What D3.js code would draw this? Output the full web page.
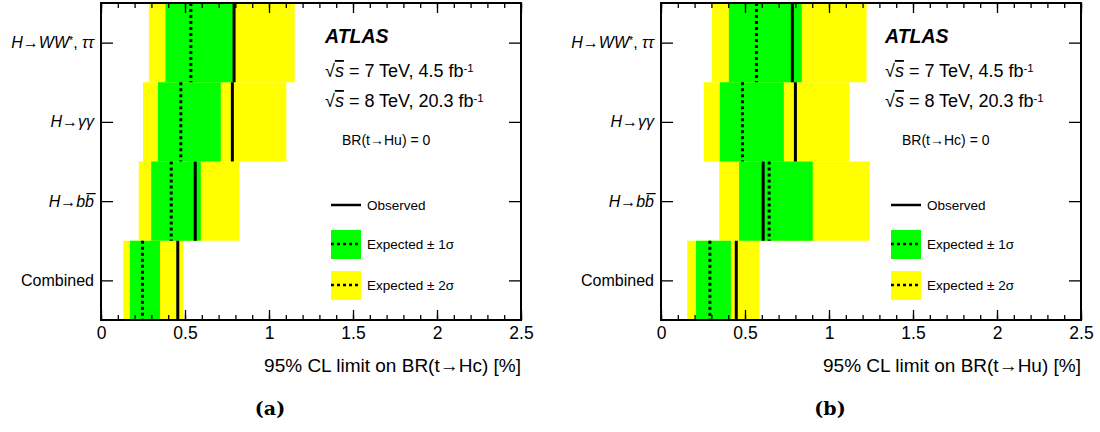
<!DOCTYPE html>
<html>
<head>
<meta charset="utf-8">
<script src="https://cdn.jsdelivr.net/npm/d3@7"></script>
<style>
  body { margin: 0; background: #fff; }
  svg { font-family: "Liberation Sans", Arial, sans-serif; }
</style>
</head>
<body>
<div class="canvas"></div>
<script>
// channels, top to bottom
const categories = ['WW', 'gg', 'bb', 'comb'];

// panel (a) : BR(t->Hc)
const obsHc = [0.792, 0.782, 0.561, 0.457];
const expHc = [0.535, 0.475, 0.418, 0.247];
const m1Hc  = [0.384, 0.339, 0.299, 0.172];
const p1Hc  = [0.786, 0.713, 0.594, 0.351];
const m2Hc  = [0.285, 0.250, 0.225, 0.133];
const p2Hc  = [1.153, 1.103, 0.824, 0.491];

// panel (b) : BR(t->Hu)
const obsHu = [0.782, 0.800, 0.608, 0.448];
const expHu = [0.568, 0.485, 0.644, 0.291];
const m1Hu  = [0.404, 0.350, 0.465, 0.208];
const p1Hu  = [0.838, 0.731, 0.903, 0.416];
const m2Hu  = [0.303, 0.255, 0.347, 0.156];
const p2Hu  = [1.224, 1.121, 1.242, 0.586];

const xTicks = [0, 0.5, 1, 1.5, 2, 2.5];

const dim = {'width': 420, 'height': 317};
const W = 1100, H = 432;

const svg = d3.select('.canvas')
              .append('svg')
              .attr('width', W)
              .attr('height', H);

const panels = [
  {off: 101, tag: '(a)', br: 'BR(t\u2192Hu) = 0', title: '95% CL limit on BR(t\u2192Hc) [%]',
   obs: obsHc, exp: expHc, m1: m1Hc, p1: p1Hc, m2: m2Hc, p2: p2Hc},
  {off: 661, tag: '(b)', br: 'BR(t\u2192Hc) = 0', title: '95% CL limit on BR(t\u2192Hu) [%]',
   obs: obsHu, exp: expHu, m1: m1Hu, p1: p1Hu, m2: m2Hu, p2: p2Hu}
];

// y label pieces: [text, italic, superscript]
const yLabels = {
  'WW':   [['H', 1], ['\u2192', 0], ['WW', 1], ['*', 0, 1], [', ', 0], ['\u03c4\u03c4', 1]],
  'gg':   [['H', 1], ['\u2192', 0], ['\u03b3\u03b3', 1]],
  'bb':   [['H', 1], ['\u2192', 0], ['b', 1], ['b\u0305', 1]],
  'comb': [['Combined', 0]]
};

const drawPanel = p => {
  const g = svg.append('g').attr('transform', `translate(${p.off},3)`);

  const x = d3.scaleLinear().domain([0, 2.5]).range([0, dim.width]);
  const y = d3.scaleBand().domain(categories).range([0, dim.height]);

  const rows = categories.map((c, i) => ({c, obs: p.obs[i], exp: p.exp[i],
      m1: p.m1[i], p1: p.p1[i], m2: p.m2[i], p2: p.p2[i]}));

  // 2 sigma
  g.selectAll('.y2').data(rows).enter().append('rect')
    .attr('x', d => x(d.m2)).attr('width', d => x(d.p2) - x(d.m2))
    .attr('y', d => y(d.c)).attr('height', y.bandwidth())
    .attr('fill', '#ffff00');
  // 1 sigma
  g.selectAll('.g1').data(rows).enter().append('rect')
    .attr('x', d => x(d.m1)).attr('width', d => x(d.p1) - x(d.m1))
    .attr('y', d => y(d.c)).attr('height', y.bandwidth())
    .attr('fill', '#00ff00');
  // expected
  g.selectAll('.exp').data(rows).enter().append('line')
    .attr('x1', d => x(d.exp)).attr('x2', d => x(d.exp))
    .attr('y1', d => y(d.c)).attr('y2', d => y(d.c) + y.bandwidth())
    .attr('stroke', '#000').attr('stroke-width', 3)
    .attr('stroke-dasharray', '3,3');
  // observed
  g.selectAll('.obs').data(rows).enter().append('line')
    .attr('x1', d => x(d.obs)).attr('x2', d => x(d.obs))
    .attr('y1', d => y(d.c)).attr('y2', d => y(d.c) + y.bandwidth())
    .attr('stroke', '#000').attr('stroke-width', 3);

  // x axes, ticks inward
  const minor = d3.range(0, 2.501, 0.1);
  const bottom = g.append('g').attr('transform', `translate(0,${dim.height})`);
  bottom.call(d3.axisBottom(x).tickValues(minor).tickSize(-5).tickSizeOuter(0).tickFormat(''));
  bottom.call(g2 => g2.select('.domain').remove());
  const bMaj = g.append('g').attr('transform', `translate(0,${dim.height})`)
    .call(d3.axisBottom(x).tickValues(xTicks).tickSize(-10).tickSizeOuter(0)
          .tickPadding(7).tickFormat(d3.format('')));
  bMaj.select('.domain').remove();
  bMaj.selectAll('text').attr('font-size', 17.5).attr('fill', '#000')
      .attr('font-family', '"Liberation Sans", Arial, sans-serif');

  const top = g.append('g');
  top.call(d3.axisTop(x).tickValues(minor).tickSize(-5).tickSizeOuter(0).tickFormat(''));
  top.select('.domain').remove();
  const tMaj = g.append('g')
    .call(d3.axisTop(x).tickValues(xTicks).tickSize(-10).tickSizeOuter(0).tickFormat(''));
  tMaj.select('.domain').remove();

  // y ticks both sides
  const yc = d3.scalePoint().domain(categories).range([y.bandwidth() / 2, dim.height - y.bandwidth() / 2]);
  const lAx = g.append('g').call(d3.axisLeft(yc).tickSize(-12).tickFormat(''));
  lAx.select('.domain').remove();
  const rAx = g.append('g').attr('transform', `translate(${dim.width},0)`)
    .call(d3.axisRight(yc).tickSize(-12).tickFormat(''));
  rAx.select('.domain').remove();
  g.selectAll('.tick line').attr('stroke-width', 1.3);

  // frame
  g.append('rect').attr('width', dim.width).attr('height', dim.height)
    .attr('fill', 'none').attr('stroke', '#000').attr('stroke-width', 2);

  // y labels
  categories.forEach(c => {
    const t = g.append('text').attr('x', -7).attr('y', yc(c) + 5.5)
      .attr('text-anchor', 'end').attr('font-size', 16).attr('fill', '#000');
    yLabels[c].forEach(pc => {
      const s = t.append('tspan').text(pc[0]);
      if (pc[1]) s.attr('font-style', 'italic');
      if (pc[2]) s.attr('font-size', 10.5).attr('baseline-shift', '40%');
    });
  });

  // axis title
  g.append('text').attr('x', dim.width).attr('y', 369)
    .attr('text-anchor', 'end').attr('font-size', 19).text(p.title);

  // ATLAS block
  const lx = 224;
  g.append('text').attr('x', lx).attr('y', 40).attr('font-size', 19.5)
    .attr('font-weight', 'bold').attr('font-style', 'italic').text('ATLAS');
  [['7', '4.5', 74], ['8', '20.3', 104]].forEach(r => {
    const t = g.append('text').attr('x', lx).attr('y', r[2]).attr('font-size', 18);
    t.append('tspan').text('\u221a');
    t.append('tspan').attr('font-style', 'italic').attr('text-decoration', 'overline').text('s');
    t.append('tspan').text(` = ${r[0]} TeV, ${r[1]} fb`);
    t.append('tspan').attr('font-size', 11.5).attr('baseline-shift', '45%').text('-1');
  });
  g.append('text').attr('x', lx + 17).attr('y', 142).attr('font-size', 14).text(p.br);

  // legend
  const lg = g.append('g').attr('transform', `translate(${lx + 6},0)`);
  lg.append('line').attr('x1', 0).attr('x2', 30).attr('y1', 202).attr('y2', 202)
    .attr('stroke', '#000').attr('stroke-width', 2.5);
  lg.append('text').attr('x', 36).attr('y', 207).attr('font-size', 13.5).text('Observed');
  [['#00ff00', 227, 'Expected \u00b1 1\u03c3'], ['#ffff00', 268, 'Expected \u00b1 2\u03c3']].forEach(r => {
    lg.append('rect').attr('x', 0).attr('y', r[1]).attr('width', 30).attr('height', 29).attr('fill', r[0]);
    lg.append('line').attr('x1', 0).attr('x2', 30).attr('y1', r[1] + 14).attr('y2', r[1] + 14)
      .attr('stroke', '#000').attr('stroke-width', 2.5).attr('stroke-dasharray', '3,3');
    lg.append('text').attr('x', 36).attr('y', r[1] + 19).attr('font-size', 13.5).text(r[2]);
  });

  // sub caption
  g.append('text').attr('x', 169).attr('y', 412).attr('text-anchor', 'middle')
    .attr('font-size', 19).attr('font-weight', 'bold')
    .attr('font-family', '"DejaVu Serif", "Liberation Serif", serif').text(p.tag);
};

panels.forEach(drawPanel);
</script>
</body>
</html>
